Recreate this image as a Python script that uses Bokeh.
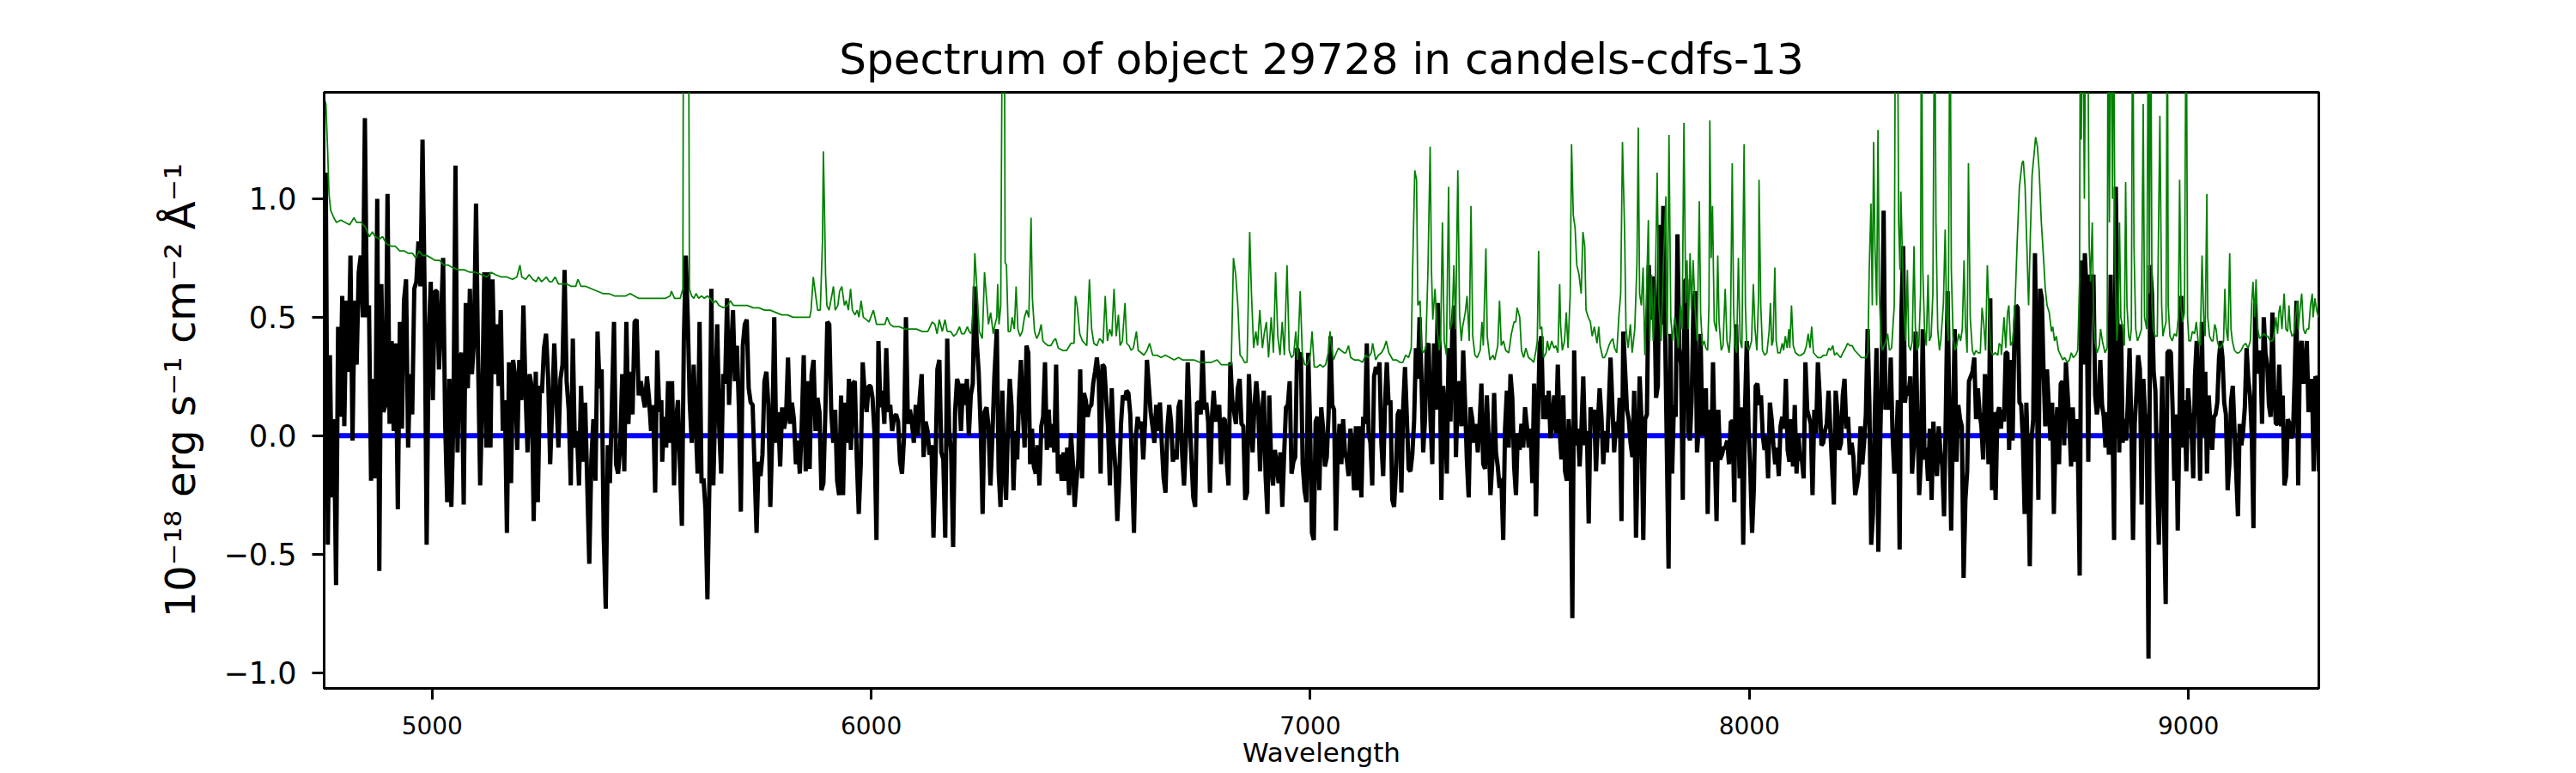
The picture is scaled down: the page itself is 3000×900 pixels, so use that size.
import numpy as np
from bokeh.plotting import figure
from bokeh.models import Range1d, Span, FixedTicker, CustomJSTickFormatter
from bokeh.embed import file_html
from bokeh.resources import INLINE

TITLE = "Spectrum of object 29728 in candels-cdfs-13"
X_LABEL = "Wavelength"
Y_LABEL = "10\u207b\u00b9\u2078 erg s\u207b\u00b9 cm\u207b\u00b2 \u00c5\u207b\u00b9"

x_ticks = [5000, 6000, 7000, 8000, 9000]
y_ticks = [-1.0, -0.5, 0.0, 0.5, 1.0]
x_limits = [4754, 9297]
y_limits = [-1.066, 1.449]
zero_level = 0.0

# observed flux, read segment by segment (each segment uniformly sampled)
black_seg_start = [4753, 5524, 6286, 7050, 7816, 8576]
black_seg_end = [5522, 6285, 7046, 7804, 8573, 9297]

flux_seg1 = [0.34, 1.11, -0.46, 0.34, -0.26, 0.07, -0.63, 0.46, 0.08, 0.59, 0.04, 0.57, 0.27, 0.76, -0.02, 0.57, 0.30, 0.69, 0.76, 0.50,
             1.34, 0.50, 0.55, -0.19, 0.24, -0.18, 1.00, -0.57, 0.64, 0.10, 0.13, 1.02, 0.05, 0.40, 0.02, 0.39, -0.31, 0.48, 0.03, 0.57,
             0.66, -0.05, 0.26, 0.09, 0.62, 0.65, 0.82, 0.63, 1.25, 0.62, -0.46, 0.41, 0.65, 0.15, 0.61, 0.61, 0.28, 0.49, 0.75, 0.05,
             -0.28, 0.24, -0.30, 0.07, 1.14, -0.07, 0.32, 0.35, -0.29, 0.56, 0.20, 0.62, 0.26, 0.40, 0.98, 0.31, -0.21, 0.15, 0.69, -0.05,
             0.69, -0.05, 0.66, 0.26, 0.47, 0.21, 0.53, 0.02, 0.15, -0.41, 0.31, -0.20, 0.32, 0.25, -0.06, 0.32, 0.15, 0.55, 0.20, -0.07,
             0.26, 0.21, -0.36, 0.27, -0.28, 0.21, 0.18, 0.37, 0.43, 0.25, -0.12, 0.13, 0.39, 0.16, -0.05, 0.24, 0.30, 0.70, 0.23, 0.11,
             -0.21, 0.41, -0.05, 0.02, -0.21, 0.21, -0.11, 0.14, -0.20, -0.54, -0.10, 0.07, -0.19, 0.44, 0.20, 0.28, -0.42, -0.73, -0.04, -0.20,
             0.14, 0.48, -0.12, -0.16, -0.05, 0.26, -0.15, 0.48, 0.05, 0.27, 0.09, 0.48, 0.49, 0.17, 0.23, 0.17, 0.12, 0.25, 0.16, 0.02,
             0.13, -0.24, 0.36, 0.10, 0.15]

flux_seg2 = [-0.11, 0.08, -0.05, 0.23, -0.03, 0.23, -0.21, 0.06, 0.15, -0.12, -0.38, 0.40, 0.76, 0.49, 0.14, -0.03, 0.30, 0.06, -0.16, 0.48,
             -0.20, -0.18, -0.31, -0.69, -0.20, 0.62, -0.21, 0.15, 0.47, 0.03, -0.16, 0.26, 0.22, 0.58, 0.13, 0.35, 0.53, 0.23, 0.38, 0.12,
             -0.32, 0.38, 0.47, 0.49, 0.20, 0.14, 0.13, -0.14, -0.41, -0.11, -0.17, -0.08, 0.23, 0.27, 0.13, -0.30, 0.01, 0.50, -0.03, 0.10,
             -0.13, 0.12, 0.03, 0.08, 0.33, 0.05, 0.14, 0.07, -0.12, -0.02, -0.16, 0.05, 0.34, -0.15, 0.23, -0.14, 0.26, 0.32, 0.02, 0.16,
             0.10, -0.23, -0.20, 0.10, 0.48, 0.47, 0.10, -0.03, 0.11, -0.19, -0.25, 0.17, -0.25, 0.14, -0.03, 0.24, -0.06, 0.22, 0.23, -0.10,
             -0.33, -0.12, 0.31, 0.18, 0.10, 0.21, 0.21, 0.16, 0.01, -0.44, 0.40, 0.12, 0.19, 0.05, 0.37, 0.10, 0.13, 0.02, 0.08, 0.09,
             0.06, -0.11, -0.16, -0.01, 0.50, 0.05, 0.11, 0.06, -0.03, 0.13, 0.00, 0.16, 0.26, -0.09, 0.06, 0.02, -0.08, -0.04, -0.43, -0.13,
             0.28, 0.32, -0.07, -0.10, -0.43, 0.41, 0.02, -0.07, -0.47, 0.10, 0.24, 0.21, 0.02, 0.22, 0.13, 0.24, 0.00, 0.17, 0.22, 0.63,
             0.40, 0.27, 0.04, -0.33, 0.10, 0.12, 0.04, -0.21, 0.00, 0.25, 0.41]

flux_seg3 = [0.45, -0.15, -0.30, 0.19, -0.14, -0.27, 0.04, 0.24, 0.12, -0.23, 0.02, -0.10, 0.16, 0.32, 0.11, -0.05, 0.38, 0.35, -0.12, 0.03,
             -0.13, -0.16, -0.04, -0.21, 0.04, 0.08, 0.31, -0.06, 0.11, -0.05, 0.05, -0.07, 0.30, -0.16, -0.08, -0.19, -0.07, -0.19, -0.05, -0.25,
             0.01, -0.11, -0.30, -0.19, -0.10, 0.28, -0.18, 0.18, 0.15, 0.08, 0.12, 0.13, 0.22, 0.27, 0.33, 0.24, -0.16, 0.30, 0.29, 0.16,
             0.04, -0.21, 0.20, -0.03, -0.14, -0.36, -0.19, 0.05, 0.17, 0.15, 0.19, 0.18, 0.09, -0.15, -0.41, -0.01, 0.08, 0.03, 0.06, -0.10,
             0.06, 0.32, 0.21, 0.10, 0.04, -0.03, 0.13, 0.02, 0.14, -0.03, -0.18, -0.24, 0.03, 0.13, 0.06, -0.11, -0.06, -0.10, 0.12, 0.15,
             -0.08, -0.21, -0.03, 0.31, 0.09, -0.10, -0.26, -0.30, 0.14, 0.14, 0.09, 0.36, 0.11, 0.14, 0.06, -0.24, 0.07, 0.19, 0.06, 0.10,
             0.13, -0.12, 0.07, 0.07, -0.10, -0.21, 0.31, 0.15, 0.10, 0.05, 0.20, 0.24, 0.05, 0.04, -0.27, -0.24, 0.26, 0.07, -0.07, 0.13,
             0.23, 0.13, -0.15, 0.08, 0.19, -0.17, -0.33, 0.17, -0.12, -0.21, -0.06, -0.12, -0.20, -0.07, -0.30, -0.08, 0.12, 0.13, 0.23, -0.16,
             -0.11, -0.09, 0.37, 0.34, 0.35, -0.12, -0.23, -0.28, 0.35, 0.04, -0.41, -0.44, 0.06, 0.08, -0.23, 0.12, 0.03, -0.13, -0.09, 0.10,
             0.42]

flux_seg4 = [0.13, 0.11, -0.40, -0.07, 0.05, -0.12, 0.07, -0.07, -0.10, -0.17, 0.03, -0.06, -0.23, 0.04, -0.23, 0.04, -0.26, 0.08, 0.05, 0.39,
             0.01, -0.03, -0.21, 0.25, 0.29, 0.26, 0.31, -0.03, -0.17, 0.13, 0.31, 0.13, 0.15, -0.27, -0.30, -0.15, 0.09, 0.11, -0.24, 0.12,
             0.29, 0.08, -0.14, -0.15, -0.08, 0.06, 0.37, 0.24, 0.50, 0.26, -0.07, 0.07, 0.37, 0.39, 0.07, -0.12, 0.39, 0.11, 0.56, 0.37,
             -0.27, 0.21, 0.09, -0.16, 0.37, 0.06, 0.45, 0.55, -0.09, 0.19, 0.23, 0.04, 0.36, 0.14, -0.10, -0.26, 0.12, 0.07, -0.03, 0.05,
             -0.07, 0.05, 0.22, -0.12, -0.14, 0.17, -0.02, -0.25, -0.11, 0.18, -0.07, -0.13, -0.22, -0.18, -0.44, 0.03, 0.19, -0.05, 0.26, 0.16,
             -0.13, -0.25, 0.01, -0.06, 0.05, -0.05, 0.12, 0.04, -0.05, 0.03, -0.20, 0.22, -0.34, 0.04, 0.38, 0.42, 0.07, 0.17, 0.07, 0.19,
             -0.01, 0.07, 0.17, 0.01, 0.30, 0.02, -0.10, 0.17, -0.15, -0.19, 0.07, -0.05, -0.77, 0.36, -0.04, 0.03, -0.13, 0.03, 0.25, -0.04,
             0.02, -0.37, 0.12, 0.07, 0.11, -0.15, 0.05, 0.20, 0.08, -0.12, 0.02, -0.07, 0.12, 0.33, 0.13, -0.07, 0.06, 0.00, 0.16, -0.36,
             0.44, 0.28, 0.11, 0.07, -0.03, -0.09, 0.19, -0.43, -0.06, 0.25, 0.07, -0.44, 0.07, 0.09, 0.72, 0.49, 0.67, 0.65, 0.16, 0.21,
             0.89, 0.47, 0.97]

flux_seg5 = [-0.56, 0.43, -0.16, 0.13, 0.08, 0.85, 0.37, 0.30, -0.27, 0.65, 0.66, 0.02, -0.02, 0.15, 0.55, 0.61, -0.07, 0.03, 0.43, 0.00,
             0.08, 0.20, -0.33, 0.11, -0.11, 0.31, -0.06, -0.36, 0.11, -0.10, -0.08, -0.05, -0.05, -0.02, -0.12, 0.06, 0.06, -0.28, 0.47, 0.14,
             -0.18, 0.12, -0.46, 0.11, 0.40, 0.03, -0.15, -0.41, -0.22, 0.21, 0.22, 0.13, 0.17, 0.00, -0.06, 0.00, -0.18, 0.14, 0.07, -0.04,
             -0.12, -0.05, -0.17, 0.04, 0.08, 0.03, 0.24, -0.06, -0.11, 0.07, -0.13, 0.13, -0.16, 0.01, -0.10, -0.10, -0.18, 0.31, 0.11, 0.08,
             0.05, -0.25, 0.11, 0.01, 0.31, 0.17, -0.04, -0.03, 0.02, 0.05, 0.19, 0.03, -0.13, -0.29, 0.19, 0.10, -0.06, -0.03, 0.17, 0.24,
             0.03, 0.08, -0.08, -0.03, -0.09, -0.25, -0.21, -0.16, 0.04, -0.12, -0.03, 0.09, 0.45, 0.13, -0.46, -0.33, 0.08, 0.37, -0.49, -0.05,
             0.32, 0.95, 0.11, 0.16, 0.11, 0.33, 0.01, -0.16, -0.06, 0.15, -0.48, 0.51, 0.80, 0.14, 0.21, 0.17, 0.25, -0.16, -0.04, 0.44,
             0.08, -0.25, -0.10, 0.45, -0.10, -0.05, -0.19, 0.03, -0.27, 0.06, -0.10, -0.17, 0.04, -0.07, -0.13, -0.34, 0.10, 0.61, 0.07, -0.40,
             0.06, 0.45, -0.11, 0.13, 0.07, 0.04, -0.60, -0.27, -0.15, 0.23, 0.25, 0.27, 0.33, 0.07, 0.20, 0.10, 0.04, -0.10, 0.26, 0.16,
             -0.12, 0.58, -0.23, 0.10, -0.27, 0.09, 0.12, 0.03]

flux_seg6 = [0.11, 0.06, 0.35, 0.35, -0.06, 0.32, -0.02, 0.39, 0.55, 0.54, 0.14, 0.13, -0.02, -0.33, 0.14, -0.12, -0.55, -0.02, 0.07, 0.77,
             0.28, -0.27, 0.62, 0.58, 0.27, 0.04, 0.28, 0.13, -0.02, 0.14, -0.33, 0.02, 0.12, -0.12, 0.22, 0.23, -0.04, 0.31, 0.18, 0.05,
             -0.13, 0.12, -0.11, 0.07, -0.09, -0.59, 0.74, 0.30, 0.77, 0.61, -0.11, 0.68, 0.61, 0.68, 0.17, 0.09, 0.14, 0.32, 0.13, 0.08,
             -0.05, 0.10, -0.08, 0.68, 0.10, -0.44, 1.05, 0.43, -0.07, 0.47, -0.03, 0.07, -0.02, 0.14, 0.37, 0.05, -0.44, 0.05, 0.18, 0.34,
             0.28, -0.29, 0.24, 0.09, 0.07, -0.94, 0.72, 0.60, 0.27, 0.19, -0.18, -0.46, -0.08, 0.25, -0.33, -0.71, 0.35, 0.36, 0.35, 0.12,
             -0.19, 0.09, -0.40, 0.07, 0.59, -0.05, 0.15, -0.15, 0.20, 0.10, 0.03, -0.18, 0.25, 0.40, 0.13, -0.19, 0.48, 0.00, 0.27, -0.16,
             0.17, 0.05, -0.06, 0.08, 0.09, 0.14, 0.33, 0.40, 0.33, 0.14, 0.09, -0.23, -0.12, 0.15, 0.21, 0.02, -0.16, -0.34, 0.05, -0.04,
             0.02, 0.12, 0.37, 0.24, 0.17, 0.01, -0.39, 0.56, 0.27, 0.27, 0.36, 0.05, 0.50, 0.35, 0.30, 0.13, 0.08, 0.52, 0.20, 0.05,
             0.05, 0.30, 0.04, 0.17, -0.21, -0.17, 0.07, 0.05, -0.01, 0.01, 0.26, 0.57, -0.21, 0.36, 0.40, 0.22, 0.26, 0.40, 0.10, 0.15,
             0.24, -0.15, 0.25, 0.24, -0.15]

# noise spectrum (green), (wavelength, value) pairs
noise_seg1 = [(4753, 1.43), (4758, 1.40), (4762, 1.20), (4765, 1.02), (4769, 0.95), (4776, 0.92), (4782, 0.90), (4792, 0.91),
              (4802, 0.90), (4812, 0.89), (4822, 0.92), (4828, 0.90), (4838, 0.90), (4848, 0.88), (4857, 0.84), (4864, 0.86),
              (4870, 0.84), (4880, 0.83), (4887, 0.84), (4896, 0.81), (4906, 0.80), (4916, 0.80), (4926, 0.78), (4936, 0.78),
              (4945, 0.77), (4955, 0.77), (4963, 0.75), (4970, 0.78), (4978, 0.76), (4988, 0.76), (4998, 0.75), (5007, 0.74),
              (5017, 0.74), (5027, 0.72), (5037, 0.72), (5046, 0.71), (5059, 0.70), (5073, 0.70), (5086, 0.69), (5099, 0.69),
              (5112, 0.68), (5125, 0.67), (5134, 0.69), (5144, 0.68), (5157, 0.67), (5170, 0.67), (5183, 0.66), (5193, 0.67),
              (5200, 0.72), (5204, 0.67), (5213, 0.66), (5221, 0.68), (5229, 0.66), (5237, 0.65), (5242, 0.67), (5249, 0.65),
              (5255, 0.66), (5260, 0.67), (5267, 0.65), (5273, 0.65), (5280, 0.67), (5288, 0.64), (5297, 0.64), (5307, 0.64),
              (5317, 0.63), (5327, 0.63), (5332, 0.66), (5339, 0.63), (5350, 0.63), (5363, 0.62), (5376, 0.61), (5389, 0.60),
              (5402, 0.60), (5415, 0.59), (5428, 0.59), (5441, 0.59), (5451, 0.60), (5460, 0.59), (5470, 0.58), (5483, 0.58),
              (5496, 0.58), (5509, 0.58), (5522, 0.58)]

noise_seg2 = [(5532, 0.58), (5542, 0.59), (5545, 0.61), (5552, 0.58), (5565, 0.58), (5571, 0.62), (5573, 2.5), (5578, 1.6),
              (5583, 2.5), (5586, 0.62), (5591, 0.59), (5596, 0.58), (5601, 0.60), (5607, 0.58), (5614, 0.59), (5620, 0.58),
              (5627, 0.59), (5633, 0.58), (5640, 0.56), (5646, 0.57), (5653, 0.55), (5663, 0.54), (5673, 0.55), (5679, 0.57),
              (5686, 0.55), (5695, 0.55), (5705, 0.55), (5718, 0.55), (5731, 0.54), (5744, 0.54), (5757, 0.53), (5770, 0.53),
              (5783, 0.52), (5796, 0.51), (5809, 0.51), (5822, 0.50), (5836, 0.50), (5849, 0.50), (5860, 0.50), (5863, 0.53),
              (5868, 0.67), (5873, 0.60), (5878, 0.53), (5884, 0.53), (5889, 0.82), (5891, 1.20), (5894, 0.91), (5896, 0.68),
              (5899, 0.55), (5904, 0.53), (5909, 0.58), (5914, 0.63), (5918, 0.53), (5924, 0.55), (5928, 0.61), (5933, 0.63),
              (5939, 0.55), (5943, 0.57), (5948, 0.53), (5953, 0.62), (5957, 0.53), (5963, 0.51), (5968, 0.53), (5972, 0.50),
              (5977, 0.57), (5982, 0.50), (5989, 0.49), (5995, 0.48), (6005, 0.53), (6012, 0.47), (6021, 0.47), (6031, 0.47),
              (6036, 0.50), (6043, 0.47), (6051, 0.46), (6064, 0.46), (6077, 0.45), (6090, 0.45), (6103, 0.45), (6116, 0.44),
              (6129, 0.44), (6139, 0.48), (6145, 0.47), (6150, 0.43), (6155, 0.49), (6162, 0.44), (6168, 0.49), (6173, 0.44),
              (6181, 0.44), (6188, 0.42), (6194, 0.43), (6201, 0.46), (6206, 0.43), (6212, 0.43), (6219, 0.46), (6223, 0.44),
              (6228, 0.43), (6233, 0.57), (6236, 0.77), (6241, 0.61), (6246, 0.44), (6253, 0.41), (6258, 0.69), (6263, 0.57),
              (6267, 0.47), (6272, 0.52), (6278, 0.43), (6282, 0.47)]

noise_seg3 = [(6286, 0.50), (6288, 0.64), (6291, 0.47), (6295, 0.55), (6299, 2.0), (6303, 2.0), (6305, 0.73), (6308, 0.72),
              (6312, 0.44), (6317, 0.44), (6321, 0.50), (6326, 0.45), (6330, 0.63), (6334, 0.45), (6339, 0.42), (6344, 0.44),
              (6349, 0.50), (6354, 0.53), (6359, 0.50), (6364, 0.92), (6367, 0.58), (6372, 0.44), (6377, 0.41), (6382, 0.43),
              (6387, 0.47), (6391, 0.40), (6396, 0.39), (6403, 0.38), (6409, 0.38), (6415, 0.40), (6420, 0.41), (6426, 0.37),
              (6436, 0.36), (6445, 0.36), (6455, 0.39), (6462, 0.39), (6465, 0.59), (6469, 0.55), (6475, 0.43), (6481, 0.40),
              (6491, 0.38), (6497, 0.66), (6502, 0.45), (6507, 0.39), (6514, 0.38), (6520, 0.41), (6525, 0.40), (6528, 0.39),
              (6533, 0.59), (6538, 0.40), (6543, 0.45), (6548, 0.42), (6553, 0.62), (6558, 0.42), (6563, 0.51), (6567, 0.38),
              (6572, 0.40), (6578, 0.56), (6582, 0.39), (6587, 0.38), (6592, 0.36), (6597, 0.37), (6604, 0.44), (6608, 0.36),
              (6615, 0.35), (6621, 0.34), (6628, 0.36), (6634, 0.39), (6641, 0.34), (6651, 0.34), (6660, 0.33), (6670, 0.34),
              (6680, 0.33), (6690, 0.32), (6700, 0.33), (6709, 0.32), (6722, 0.32), (6735, 0.32), (6748, 0.31), (6761, 0.31),
              (6775, 0.31), (6788, 0.32), (6797, 0.30), (6810, 0.30), (6820, 0.30), (6825, 0.75), (6830, 0.68), (6835, 0.55),
              (6840, 0.34), (6845, 0.33), (6850, 0.31), (6856, 0.31), (6862, 0.86), (6866, 0.60), (6871, 0.37), (6876, 0.44),
              (6880, 0.38), (6885, 0.53), (6891, 0.37), (6895, 0.43), (6900, 0.48), (6905, 0.33), (6911, 0.50), (6916, 0.35),
              (6921, 0.69), (6926, 0.42), (6931, 0.34), (6936, 0.48), (6941, 0.34), (6947, 0.72), (6952, 0.36), (6957, 0.33),
              (6962, 0.34), (6967, 0.44), (6971, 0.32), (6977, 0.61), (6982, 0.34), (6987, 0.30), (6993, 0.30), (7000, 0.34),
              (7004, 0.44), (7009, 0.29), (7016, 0.29), (7022, 0.30), (7029, 0.29), (7035, 0.30), (7041, 0.35), (7045, 0.44)]

noise_seg4 = [(7048, 0.38), (7053, 0.32), (7057, 0.34), (7064, 0.37), (7070, 0.36), (7077, 0.35), (7081, 0.35), (7087, 0.38),
              (7092, 0.33), (7100, 0.32), (7110, 0.32), (7119, 0.31), (7126, 0.34), (7132, 0.33), (7139, 0.35), (7142, 0.39),
              (7149, 0.32), (7155, 0.34), (7162, 0.35), (7168, 0.37), (7173, 0.40), (7179, 0.35), (7188, 0.32), (7196, 0.32),
              (7204, 0.31), (7211, 0.31), (7217, 0.34), (7224, 0.33), (7230, 0.37), (7233, 0.70), (7238, 1.12), (7242, 1.08),
              (7245, 0.55), (7250, 0.57), (7253, 0.37), (7257, 0.35), (7263, 0.37), (7268, 0.70), (7273, 1.22), (7276, 0.70),
              (7279, 0.49), (7284, 0.62), (7289, 0.45), (7294, 0.36), (7297, 0.43), (7301, 0.90), (7305, 0.40), (7310, 0.34),
              (7315, 1.05), (7318, 0.45), (7323, 0.48), (7327, 0.72), (7331, 0.45), (7336, 1.12), (7340, 0.51), (7344, 0.40),
              (7347, 0.46), (7353, 0.52), (7357, 0.59), (7362, 0.40), (7366, 0.97), (7370, 0.42), (7375, 0.34), (7380, 0.33),
              (7387, 0.36), (7391, 0.48), (7394, 0.38), (7400, 0.79), (7403, 0.42), (7409, 0.32), (7416, 0.34), (7420, 0.32),
              (7427, 0.38), (7431, 0.57), (7435, 0.38), (7440, 0.40), (7445, 0.36), (7452, 0.35), (7458, 0.43), (7464, 0.48),
              (7468, 0.48), (7471, 0.54), (7477, 0.50), (7481, 0.36), (7486, 0.33), (7491, 0.37), (7497, 0.33), (7504, 0.32),
              (7509, 0.31), (7514, 0.36), (7517, 0.40), (7520, 0.78), (7523, 0.45), (7527, 0.46), (7531, 0.33), (7537, 0.35),
              (7540, 0.40), (7544, 0.36), (7550, 0.40), (7555, 0.37), (7559, 0.38), (7564, 0.35), (7568, 0.64), (7570, 0.47),
              (7574, 0.36), (7579, 0.40), (7583, 0.52), (7587, 0.37), (7592, 0.60), (7595, 1.23), (7599, 0.93), (7603, 0.88),
              (7607, 0.72), (7612, 0.68), (7617, 0.60), (7621, 0.86), (7625, 0.80), (7628, 0.53), (7633, 0.50), (7638, 0.48),
              (7642, 0.42), (7647, 0.46), (7653, 0.39), (7657, 0.46), (7660, 0.38), (7666, 0.33), (7670, 0.33), (7675, 0.35),
              (7680, 0.38), (7685, 0.40), (7689, 0.41), (7693, 0.37), (7698, 0.35), (7703, 0.51), (7707, 0.60), (7711, 1.24),
              (7716, 0.85), (7719, 0.45), (7724, 0.37), (7729, 0.47), (7733, 0.35), (7739, 0.45), (7744, 0.73), (7747, 1.30),
              (7750, 0.60), (7754, 0.55), (7758, 0.71), (7762, 0.34), (7766, 0.62), (7770, 0.91), (7773, 0.40), (7777, 0.68),
              (7781, 0.40), (7786, 0.65), (7790, 1.11), (7794, 0.55), (7799, 0.40), (7804, 0.72), (7810, 1.01)]

noise_seg5 = [(7811, 0.55), (7813, 0.42), (7817, 1.27), (7821, 0.50), (7825, 0.40), (7830, 0.50), (7834, 0.45), (7838, 0.37),
              (7843, 0.55), (7847, 0.45), (7851, 1.32), (7855, 0.56), (7858, 0.74), (7861, 0.45), (7865, 0.77), (7868, 0.53),
              (7872, 0.74), (7876, 0.55), (7881, 0.40), (7886, 0.99), (7889, 0.52), (7893, 0.38), (7897, 0.40), (7901, 0.37),
              (7905, 0.36), (7908, 0.55), (7910, 1.33), (7913, 0.75), (7916, 0.97), (7920, 0.48), (7925, 0.44), (7928, 0.76),
              (7931, 0.48), (7936, 0.36), (7940, 0.38), (7945, 0.62), (7949, 0.40), (7954, 0.35), (7957, 0.44), (7961, 1.15),
              (7964, 0.55), (7967, 0.38), (7971, 0.35), (7975, 0.75), (7979, 0.40), (7983, 0.37), (7988, 1.23), (7991, 0.55),
              (7994, 0.38), (7999, 0.36), (8005, 0.40), (8009, 0.64), (8013, 0.45), (8017, 0.36), (8021, 0.59), (8022, 1.08),
              (8026, 0.55), (8030, 0.36), (8035, 0.34), (8040, 0.35), (8045, 0.44), (8048, 0.56), (8051, 0.38), (8054, 0.40),
              (8058, 0.71), (8061, 0.40), (8065, 0.35), (8070, 0.35), (8075, 0.39), (8078, 0.36), (8082, 0.42), (8086, 0.37),
              (8090, 0.45), (8092, 0.37), (8096, 0.55), (8100, 0.38), (8105, 0.35), (8112, 0.34), (8118, 0.34), (8125, 0.35),
              (8130, 0.38), (8134, 0.43), (8138, 0.37), (8142, 0.46), (8146, 0.35), (8151, 0.34), (8156, 0.33), (8163, 0.33),
              (8169, 0.34), (8176, 0.34), (8181, 0.37), (8185, 0.36), (8190, 0.38), (8194, 0.34), (8199, 0.35), (8203, 0.34),
              (8208, 0.33), (8213, 0.35), (8219, 0.37), (8224, 0.39), (8229, 0.38), (8234, 0.38), (8240, 0.36), (8245, 0.35),
              (8250, 0.34), (8255, 0.33), (8260, 0.33), (8266, 0.33), (8270, 0.35), (8273, 0.70), (8277, 0.98), (8280, 0.55),
              (8283, 1.24), (8286, 0.80), (8290, 0.55), (8293, 1.29), (8296, 0.60), (8300, 0.40), (8303, 0.36), (8307, 0.38),
              (8311, 0.40), (8315, 0.43), (8319, 0.36), (8324, 0.37), (8330, 0.55), (8333, 2.0), (8337, 2.0), (8340, 0.90),
              (8343, 0.70), (8345, 1.03), (8348, 0.80), (8352, 0.53), (8356, 0.40), (8360, 0.70), (8363, 0.38), (8367, 0.36),
              (8371, 0.40), (8375, 0.80), (8378, 0.46), (8382, 0.36), (8386, 0.38), (8390, 0.60), (8392, 2.0), (8395, 0.70),
              (8399, 0.45), (8403, 0.38), (8407, 0.68), (8410, 0.40), (8414, 0.42), (8418, 0.60), (8422, 2.0), (8425, 0.90),
              (8429, 0.45), (8433, 0.36), (8436, 0.40), (8442, 0.56), (8446, 0.87), (8449, 0.52), (8453, 0.40), (8457, 2.0),
              (8460, 0.70), (8464, 0.42), (8468, 0.36), (8472, 0.38), (8477, 0.43), (8481, 0.40), (8485, 0.45), (8489, 0.74),
              (8492, 0.47), (8496, 0.35), (8499, 1.15), (8503, 0.50), (8508, 0.36), (8512, 0.34), (8516, 0.36), (8521, 0.35),
              (8526, 0.35), (8530, 0.54), (8534, 0.47), (8538, 0.36), (8542, 0.72), (8546, 0.52), (8550, 0.36), (8554, 0.34),
              (8560, 0.35), (8566, 0.34), (8569, 0.39), (8573, 0.38)]

noise_seg6 = [(8574, 0.34), (8580, 0.50), (8584, 0.37), (8588, 0.52), (8591, 0.55), (8595, 0.38), (8600, 0.40), (8605, 0.55),
              (8610, 0.82), (8615, 1.05), (8621, 1.15), (8624, 1.16), (8628, 1.05), (8632, 0.80), (8636, 0.55), (8640, 0.85),
              (8644, 1.10), (8649, 1.20), (8652, 1.26), (8656, 1.22), (8660, 1.12), (8665, 0.90), (8670, 0.75), (8674, 0.62),
              (8678, 0.55), (8683, 0.52), (8688, 0.44), (8691, 0.46), (8695, 0.40), (8699, 0.42), (8704, 0.36), (8709, 0.34),
              (8714, 0.32), (8718, 0.33), (8724, 0.31), (8729, 0.32), (8733, 0.35), (8738, 0.33), (8743, 0.34), (8748, 0.36),
              (8752, 0.65), (8754, 2.0), (8756, 1.25), (8759, 2.0), (8763, 1.00), (8767, 2.0), (8770, 2.0), (8774, 0.80),
              (8777, 0.65), (8781, 0.90), (8784, 0.50), (8787, 0.40), (8792, 0.35), (8797, 0.38), (8800, 0.45), (8804, 0.40),
              (8810, 0.35), (8815, 0.37), (8817, 2.0), (8820, 0.90), (8824, 2.0), (8827, 1.00), (8829, 2.0), (8833, 0.70),
              (8837, 0.40), (8840, 0.50), (8843, 0.90), (8846, 0.50), (8851, 0.45), (8854, 0.38), (8857, 1.07), (8860, 0.55),
              (8864, 0.42), (8867, 0.40), (8870, 0.45), (8873, 2.0), (8876, 0.80), (8880, 0.45), (8884, 0.40), (8888, 0.42),
              (8893, 0.45), (8897, 1.40), (8900, 0.50), (8905, 0.45), (8909, 2.0), (8911, 0.60), (8914, 2.0), (8917, 0.55),
              (8920, 0.45), (8924, 0.42), (8929, 0.42), (8935, 1.35), (8939, 0.55), (8942, 0.42), (8945, 0.45), (8949, 0.48),
              (8952, 2.0), (8954, 0.55), (8958, 0.42), (8963, 0.40), (8968, 0.43), (8973, 0.42), (8977, 0.50), (8980, 1.08),
              (8983, 0.55), (8987, 0.48), (8991, 0.52), (8995, 2.0), (8998, 0.50), (9001, 0.40), (9005, 0.40), (9009, 0.44),
              (9014, 0.43), (9018, 0.48), (9022, 0.40), (9027, 0.38), (9031, 0.76), (9035, 0.48), (9038, 0.42), (9042, 1.02),
              (9044, 0.50), (9048, 0.42), (9053, 0.40), (9056, 0.40), (9060, 0.47), (9063, 0.45), (9066, 0.40), (9070, 0.37),
              (9076, 0.38), (9080, 0.40), (9083, 0.62), (9086, 0.45), (9090, 0.40), (9094, 0.77), (9097, 0.45), (9100, 0.40),
              (9105, 0.36), (9110, 0.35), (9115, 0.35), (9120, 0.36), (9125, 0.38), (9130, 0.39), (9136, 0.37), (9141, 0.40),
              (9144, 0.55), (9147, 0.65), (9151, 0.50), (9154, 0.66), (9158, 0.45), (9162, 0.41), (9167, 0.42), (9172, 0.43),
              (9177, 0.42), (9181, 0.42), (9186, 0.40), (9192, 0.40), (9196, 0.44), (9199, 0.50), (9203, 0.43), (9206, 0.52),
              (9209, 0.55), (9213, 0.45), (9218, 0.60), (9222, 0.45), (9226, 0.44), (9229, 0.55), (9232, 0.45), (9236, 0.42),
              (9240, 0.43), (9244, 0.50), (9248, 0.57), (9250, 0.45), (9255, 0.55), (9258, 0.60), (9262, 0.45), (9266, 0.43),
              (9270, 0.45), (9274, 0.45), (9278, 0.55), (9282, 0.60), (9284, 0.50), (9288, 0.58), (9292, 0.53), (9296, 0.50)]

# ---------------------------------------------------------------- assemble
flux_segments = [flux_seg1, flux_seg2, flux_seg3, flux_seg4, flux_seg5, flux_seg6]
wave = np.concatenate([np.linspace(s, e, len(f)) for s, e, f in zip(black_seg_start, black_seg_end, flux_segments)])
flux = np.concatenate([np.array(f, dtype=float) for f in flux_segments])

noise_pairs = noise_seg1 + noise_seg2 + noise_seg3 + noise_seg4 + noise_seg5 + noise_seg6
noise_wave = [w for w, _ in noise_pairs]
noise_flux = [v for _, v in noise_pairs]

FONT = "DejaVu Sans"

p = figure(width=2984, height=898,
           x_range=Range1d(*x_limits), y_range=Range1d(*y_limits),
           output_backend="svg", toolbar_location=None,
           min_border_left=377, min_border_right=284, min_border_top=107, min_border_bottom=97,
           title=TITLE)

p.background_fill_color = "white"
p.border_fill_color = "white"
p.outline_line_color = "black"
p.outline_line_width = 3
p.outline_line_alpha = 1.0
p.grid.grid_line_color = None

p.title.text_font = FONT
p.title.text_font_size = "50px"
p.title.text_font_style = "normal"
p.title.text_color = "black"
p.title.align = "center"
p.title.standoff = 20

# zero level (blue), drawn below the spectrum
p.add_layout(Span(location=zero_level, dimension="width", line_color="#0000ff", line_width=6, level="underlay"))

p.line(wave, flux, line_color="black", line_width=5)
p.line(noise_wave, noise_flux, line_color="#008000", line_width=1.75)

for ax in (p.xaxis[0], p.yaxis[0]):
    ax.axis_line_color = "black"
    ax.axis_line_width = 3
    ax.major_tick_line_color = "black"
    ax.major_tick_line_width = 3
    ax.major_tick_in = 0
    ax.major_tick_out = 13
    ax.minor_tick_line_color = None
    ax.major_label_text_font = FONT
    ax.major_label_text_color = "black"
    ax.axis_label_text_font = FONT
    ax.axis_label_text_font_style = "normal"
    ax.axis_label_text_color = "black"

p.xaxis.ticker = FixedTicker(ticks=x_ticks)
p.xaxis.major_label_text_font_size = "28px"
p.xaxis.major_label_standoff = 19
p.xaxis.axis_label = X_LABEL
p.xaxis.axis_label_text_font_size = "31px"
p.xaxis.axis_label_standoff = 0

p.yaxis.ticker = FixedTicker(ticks=y_ticks)
p.yaxis.formatter = CustomJSTickFormatter(code="return tick.toFixed(1).replace('-', '\\u2212');")
p.yaxis.major_label_text_font_size = "35px"
p.yaxis.major_label_standoff = 18
p.yaxis.major_tick_out = 14
p.yaxis.axis_label = Y_LABEL
p.yaxis.axis_label_text_font_size = "48px"
p.yaxis.axis_label_standoff = 20

open("out.html", "w").write(file_html(p, INLINE))
